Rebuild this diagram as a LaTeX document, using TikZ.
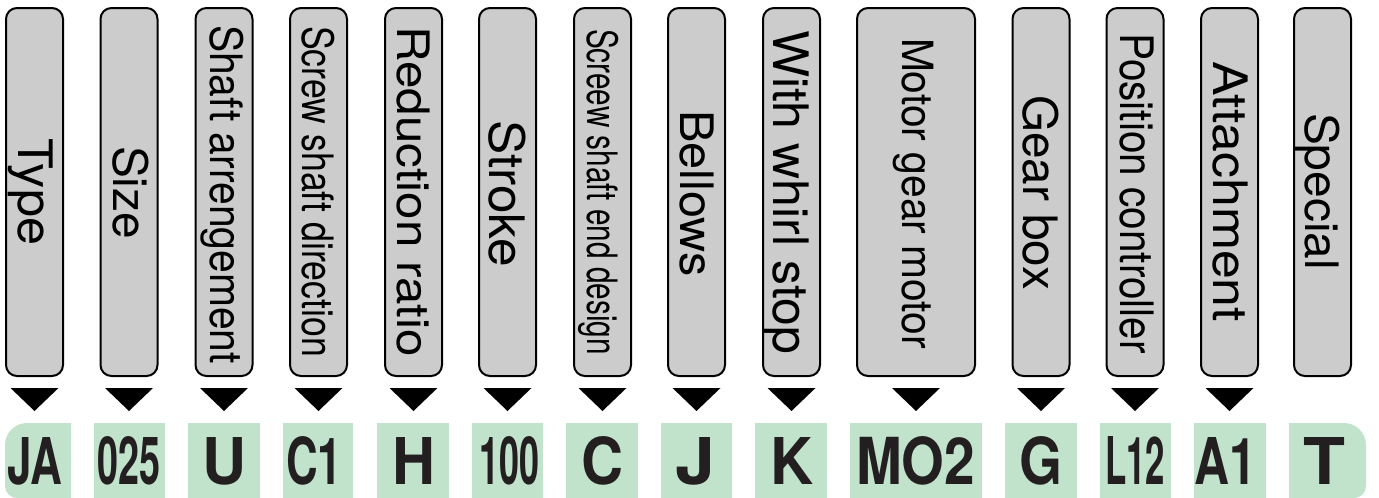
\documentclass[tikz,border=0pt]{standalone}
\usepackage{fontspec}
\setmainfont{TeX Gyre Heros}
\usetikzlibrary{calc}
\definecolor{boxgray}{HTML}{CCCCCC}
\definecolor{codegreen}{HTML}{C1E3CC}
\definecolor{inkdark}{HTML}{231F20}
\newcommand{\lab}[3]{\resizebox{#2pt}{\height}{\fontsize{#1pt}{#1pt}\selectfont #3}}
\newcommand{\codetext}[3]{\resizebox{#1pt}{#2pt}{\fontsize{60pt}{60pt}\selectfont\bfseries #3}}
\tikzset{
  graybox/.style={draw=black, line width=2pt, fill=boxgray, rounded corners=11pt,
    minimum width=57pt, minimum height=368pt, inner sep=0pt, outer sep=0pt},
  lbl/.style={rotate=-90, anchor=base west, inner sep=0pt, outer sep=0pt, text=black},
  codetxt/.style={anchor=base, inner sep=0pt, outer sep=0pt, text=inkdark},
  pointer/.style={fill=black},
  greenfill/.style={fill=codegreen},
}
\begin{document}
\begin{tikzpicture}[x=1pt,y=-1pt]
\useasboundingbox (0,0) rectangle (1379,498);
% gray boxes
\foreach \n/\cx in {1/34.5,2/129,3/224,4/318.5,5/413.5,6/507.5,7/602.5,8/696.5,9/791.5,11/1041,12/1135,13/1229.5,14/1322.5}
  \node[graybox] (b\n) at (\cx,192) {};
\node[graybox, minimum width=118pt] (b10) at (916,192) {};
% labels
\node[lbl] (t1) at (18,138) {\lab{47.5}{107}{Type}};
\node[lbl] (t2) at (113,146) {\lab{47.5}{93}{Size}};
\node[lbl] (t3) at (210,25) {\lab{44.7}{339}{Shaft arrengement}};
\node[lbl] (t4) at (302,26) {\lab{43.3}{331}{Screw shaft direction}};
\node[lbl] (t5) at (397,26) {\lab{44.7}{331}{Reduction ratio}};
\node[lbl] (t6) at (489,120) {\lab{48.9}{147}{Stroke}};
\node[lbl] (t7) at (587,29) {\lab{41.9}{326}{Screew shaft end design}};
\node[lbl] (t8) at (680,110) {\lab{46.1}{167}{Bellows}};
\node[lbl] (t9) at (773,30) {\lab{48.9}{324}{With whirl stop}};
\node[lbl] (t10) at (902,38) {\lab{43}{311}{Motor gear motor}};
\node[lbl] (t11) at (1023,95) {\lab{47.5}{195}{Gear box}};
\node[lbl] (t12) at (1120,33) {\lab{46.1}{321}{Position controller}};
\node[lbl] (t13) at (1213,61) {\lab{47.5}{261}{Attachment}};
\node[lbl] (t14) at (1305,113) {\lab{46.1}{157}{Special}};
% pointers
\foreach \n in {1,...,13}
  \fill[pointer] ($(b\n.south)+(-24,12)$) -- ($(b\n.south)+(24,12)$) -- ($(b\n.south)+(0,35)$) -- cycle;
% green code cells
\fill[greenfill] (71,498) -- (17,498) arc[start angle=90, end angle=180, radius=12] -- (5,445)
  arc[start angle=180, end angle=270, radius=22] -- (71,423) -- cycle;
\foreach \a/\b in {94/165,188/260,283/353,377/449,472/543,566/638,661/732,755/827,850/982,1005/1077,1100/1171,1194/1266}
  \fill[greenfill] (\a,423) rectangle (\b,498);
\fill[greenfill] (1289,423) -- (1344,423) arc[start angle=270, end angle=360, radius=22] -- (1366,486)
  arc[start angle=0, end angle=90, radius=12] -- (1289,498) -- cycle;
% codes
\node[codetxt] (c1) at (34.5,484) {\codetext{55}{47}{JA}};
\node[codetxt] (c2) at (128.5,484) {\codetext{63}{48}{025}};
\node[codetxt] (c3) at (224,484) {\codetext{44}{47}{U}};
\node[codetxt] (c4) at (314,484) {\codetext{56}{48}{C1}};
\node[codetxt] (c5) at (413.5,484) {\codetext{43}{47}{H}};
\node[codetxt] (c6) at (509,484) {\codetext{60}{48}{100}};
\node[codetxt] (c7) at (602,484) {\codetext{42}{48}{C}};
\node[codetxt] (c8) at (695,484) {\codetext{40}{47}{J}};
\node[codetxt] (c9) at (791.5,484) {\codetext{43}{47}{K}};
\node[codetxt] (c10) at (915.5,484) {\codetext{119}{48}{MO2}};
\node[codetxt] (c11) at (1040.5,484) {\codetext{43}{48}{G}};
\node[codetxt] (c12) at (1135,484) {\codetext{60}{48}{L12}};
\node[codetxt] (c13) at (1225,484) {\codetext{62}{47}{A1}};
\node[codetxt] (c14) at (1324,484) {\codetext{42}{47}{T}};
\end{tikzpicture}
\end{document}
